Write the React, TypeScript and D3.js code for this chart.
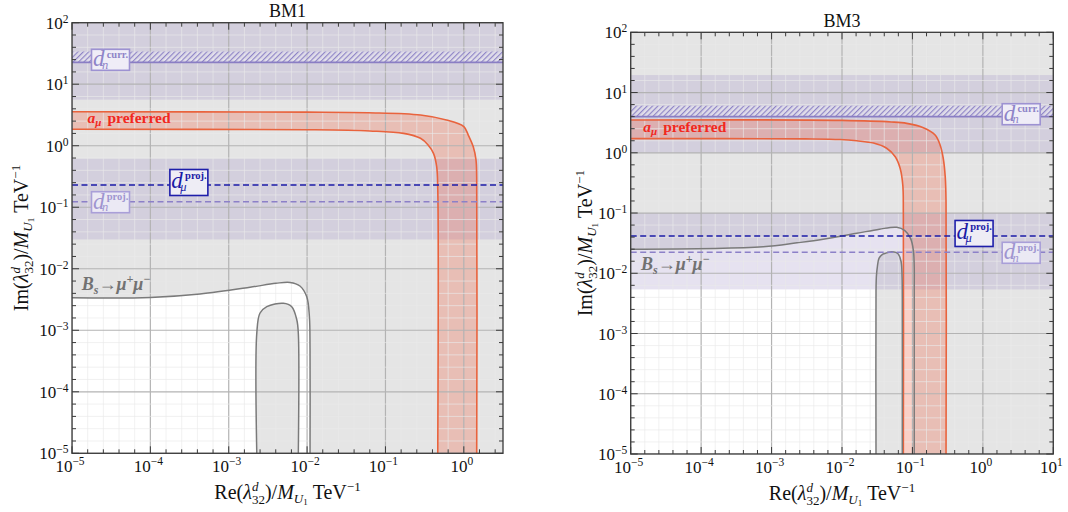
import React from "react";
import * as d3 from "d3";

type Pt = [number, number];

const FONT = "'Liberation Serif', 'Times New Roman', Times, serif";

// Axis extents (powers of ten) and tick exponents
const yExpRange: [number, number] = [-5, 2];
const yTickExps = [-5, -4, -3, -2, -1, 0, 1, 2];
const bm1XExpRange: [number, number] = [-5, 0.5];
const bm1XTickExps = [-5, -4, -3, -2, -1, 0];
const bm3XExpRange: [number, number] = [-5, 1];
const bm3XTickExps = [-5, -4, -3, -2, -1, 0, 1];

// ---------- BM1 ----------
// a_mu preferred band: outer and inner boundary (Re, Im)
const bm1AmuOuter: Pt[] = [
  [1e-5, 3.57], [1e-2, 3.52], [0.06, 3.44], [0.28, 3.16], [0.6, 2.62], [1.0, 2.04],
  [1.14, 1.49], [1.32, 0.96], [1.43, 0.59], [1.46, 0.3], [1.46, 1e-5],
];
const bm1AmuInner: Pt[] = [
  [1e-5, 1.85], [1e-2, 1.82], [0.063, 1.74], [0.17, 1.59], [0.28, 1.32], [0.35, 1.03],
  [0.41, 0.75], [0.45, 0.46], [0.465, 0.2], [0.465, 1e-5],
];
// Bs -> mu mu allowed region: outer and inner contour
const bm1BsOuter: Pt[] = [
  [1e-5, 3.38e-3], [1e-4, 3.42e-3], [4.3e-4, 3.9e-3], [1.87e-3, 5.0e-3], [4e-3, 5.8e-3],
  [6.05e-3, 6.0e-3], [8.1e-3, 5.25e-3], [9.9e-3, 3.5e-3], [1.07e-2, 1.66e-3],
  [1.09e-2, 5e-4], [1.09e-2, 1e-5],
];
const bm1BsInner: Pt[] = [
  [2.28e-3, 1e-5], [2.28e-3, 8.9e-4], [2.5e-3, 1.89e-3], [3.06e-3, 2.42e-3],
  [4.98e-3, 2.74e-3], [6.37e-3, 2.42e-3], [7.4e-3, 1.47e-3], [7.73e-3, 8.9e-4], [7.73e-3, 1e-5],
];
const bm1DnCurrBand: [number, number] = [5.6, 100];
const bm1DnCurrLimit = 22.7;
const bm1DnCurrHatchTop = 34;
const bm1ProjBand: [number, number] = [0.03, 0.62];
const bm1DmuProj = 0.23;
const bm1DnProj = 0.123;

// ---------- BM3 ----------
const bm3AmuOuter: Pt[] = [
  [1e-5, 3.5], [0.01, 3.45], [0.05, 3.25], [0.083, 3.08], [0.143, 2.61], [0.21, 1.97],
  [0.247, 1.35], [0.274, 0.81], [0.293, 0.38], [0.3, 0.15], [0.3, 1e-5],
];
const bm3AmuInner: Pt[] = [
  [1e-5, 1.72], [3e-3, 1.7], [0.0094, 1.66], [0.0162, 1.58], [0.028, 1.45], [0.043, 1.19],
  [0.057, 0.86], [0.067, 0.55], [0.073, 0.29], [0.0743, 0.1], [0.0743, 1e-5],
];
const bm3BsOuter: Pt[] = [
  [1e-5, 0.025], [7.6e-4, 0.0275], [2.3e-3, 0.032], [5.4e-3, 0.0366], [0.0162, 0.046],
  [0.034, 0.054], [0.06, 0.058], [0.078, 0.051], [0.094, 0.038], [0.103, 0.0243],
  [0.106, 0.0129], [0.106, 5e-3], [0.106, 1e-5],
];
const bm3BsInner: Pt[] = [
  [0.0304, 1e-5], [0.0304, 5e-3], [0.0308, 9e-3], [0.0318, 0.0129], [0.0336, 0.0178],
  [0.038, 0.0208], [0.043, 0.0218], [0.0508, 0.0228], [0.058, 0.0222], [0.063, 0.0208],
  [0.069, 0.0157], [0.0713, 0.0087], [0.0718, 4e-3], [0.0718, 1e-5],
];
const bm3DnCurrBand: [number, number] = [1.0, 19.5];
const bm3DnCurrLimit = 3.97;
const bm3DnCurrHatchTop = 6.05;
const bm3ProjBand: [number, number] = [0.0054, 0.1];
const bm3DmuProj = 0.0416;
const bm3DnProj = 0.0223;

// ---------- styling ----------
const EXCLUDED = "#e5e5e5";
const PURPLE_FILL = "rgba(162,147,199,0.27)";
const ORANGE_FILL = "rgba(240,110,80,0.32)";
const ORANGE_LINE = "#e9633d";
const BS_LINE = "#7a7a7a";
const MAJOR_GRID = "#b3b3b3";
const MINOR_GRID = "rgba(234,234,234,0.65)";

interface Frame { left: number; top: number; right: number; bottom: number }

interface PanelSpec {
  id: string;
  title: string;
  titleY: number;
  frame: Frame;
  xExp: [number, number];
  xTicks: number[];
  amuOuter: Pt[];
  amuInner: Pt[];
  bsOuter: Pt[];
  bsInner: Pt[];
  dnCurrBand: [number, number];
  dnCurrLimit: number;
  dnCurrHatchTop: number;
  projBand: [number, number];
  dmuProj: number;
  dnProj: number;
  // label anchors in data units
  dnCurrLabelX: number;
  dmuLabelX: number;
  dnProjLabelX: number;
  amuLabel: Pt;
  bsLabel: Pt;
  xTitleY: number;
  yTitleX: number;
}

const panels: PanelSpec[] = [
  {
    id: "bm1", title: "BM1", titleY: 17,
    frame: { left: 72, top: 22.7, right: 503, bottom: 453.3 },
    xExp: bm1XExpRange, xTicks: bm1XTickExps,
    amuOuter: bm1AmuOuter, amuInner: bm1AmuInner, bsOuter: bm1BsOuter, bsInner: bm1BsInner,
    dnCurrBand: bm1DnCurrBand, dnCurrLimit: bm1DnCurrLimit, dnCurrHatchTop: bm1DnCurrHatchTop,
    projBand: bm1ProjBand, dmuProj: bm1DmuProj, dnProj: bm1DnProj,
    dnCurrLabelX: 3.1e-5, dmuLabelX: 3.1e-4, dnProjLabelX: 3.1e-5,
    amuLabel: [1.58e-5, 2.37], bsLabel: [1.33e-5, 4.5e-3],
    xTitleY: 499, yTitleX: 28,
  },
  {
    id: "bm3", title: "BM3", titleY: 26.5,
    frame: { left: 630.7, top: 32.3, right: 1053.3, bottom: 454 },
    xExp: bm3XExpRange, xTicks: bm3XTickExps,
    amuOuter: bm3AmuOuter, amuInner: bm3AmuInner, bsOuter: bm3BsOuter, bsInner: bm3BsInner,
    dnCurrBand: bm3DnCurrBand, dnCurrLimit: bm3DnCurrLimit, dnCurrHatchTop: bm3DnCurrHatchTop,
    projBand: bm3ProjBand, dmuProj: bm3DmuProj, dnProj: bm3DnProj,
    dnCurrLabelX: 3.5, dmuLabelX: 0.75, dnProjLabelX: 3.5,
    amuLabel: [1.51e-5, 2.25], bsLabel: [1.4e-5, 0.0113],
    xTitleY: 500, yTitleX: 592,
  },
];

const minus = (e: number) => (e < 0 ? "\u2212" + Math.abs(e) : String(e));

function EdmLabel(props: {
  cx: number; cy: number; sub: string; sup: string; color: string; stroke: string; fill: string; tall?: boolean;
}) {
  const { cx, cy, sub, sup, color, stroke, fill, tall } = props;
  const w = 38;
  const h = tall ? 26 : 21;
  return (
    <g fontFamily={FONT}>
      <rect x={cx - w / 2} y={cy - h / 2} width={w} height={h} fill={fill} stroke={stroke} strokeWidth={1.6} />
      <text x={cx - 17.5} y={cy + (tall ? 5.5 : 6.5)} fontSize={23} fontStyle="italic" fill={color}>d</text>
      <text x={cx - 3.8} y={cy - (tall ? 3 : 2)} fontSize={10.5} fontWeight="bold" fill={color}>{sup}</text>
      <text x={cx - 8.6} y={cy + (tall ? 9 : 9.2)} fontSize={12.5} fontStyle="italic" fill={color}>{sub}</text>
    </g>
  );
}

function AxisTitle(props: { lead: string; x: number; y: number; rotate?: boolean }) {
  const { lead, x, y, rotate } = props;
  const transform = rotate ? `translate(${x},${y}) rotate(-90)` : `translate(${x},${y})`;
  return (
    <text transform={transform} textAnchor="middle" fontFamily={FONT} fontSize={20} fill="#111">
      <tspan>{lead}(</tspan>
      <tspan fontStyle="italic">λ</tspan>
      <tspan fontStyle="italic" fontSize={13} dy={-8}>d</tspan>
      <tspan fontSize={13} dx={-6.5} dy={13}>32</tspan>
      <tspan dy={-5}>)/</tspan>
      <tspan fontStyle="italic">M</tspan>
      <tspan fontStyle="italic" fontSize={13} dy={4}>U</tspan>
      <tspan fontSize={9} dy={2}>1</tspan>
      <tspan dy={-6}>{"\u00a0TeV"}</tspan>
      <tspan fontSize={13} dy={-8}>{"\u22121"}</tspan>
    </text>
  );
}

function Panel({ spec }: { spec: PanelSpec }) {
  const { left, top, right, bottom } = spec.frame;
  const x = d3.scaleLog().domain([10 ** spec.xExp[0], 10 ** spec.xExp[1]]).range([left, right]);
  const y = d3.scaleLog().domain([10 ** yExpRange[0], 10 ** yExpRange[1]]).range([bottom, top]);
  const line = d3
    .line<Pt>()
    .x((d) => x(d[0]))
    .y((d) => y(d[1]))
    .curve(d3.curveCatmullRom.alpha(0.5));

  const allowedPath = `${line(spec.bsOuter)}L${left},${bottom}Z`;
  const innerPath = `${line(spec.bsInner)}Z`;
  const amuPath = `${line(spec.amuOuter)}${(line(spec.amuInner.slice().reverse()) || "").replace(/^M/, "L")}Z`;

  const clipId = `clip-${spec.id}`;
  const hatchId = `hatch-${spec.id}`;

  // Minor grid every 0.2 decade, major at each decade
  const xSteps = d3.range(Math.ceil(spec.xExp[0] * 5), Math.floor(spec.xExp[1] * 5 + 1e-9) + 1);
  const ySteps = d3.range(yExpRange[0] * 5, yExpRange[1] * 5 + 1);
  const band = (b: [number, number]) => ({ y: y(b[1]), h: y(b[0]) - y(b[1]) });

  const upper = band(spec.dnCurrBand);
  const proj = band(spec.projBand);
  const hatch = band([spec.dnCurrLimit, spec.dnCurrHatchTop]);

  const majT = 7;
  const minT = 4;

  return (
    <g>
      <defs>
        <clipPath id={clipId}>
          <rect x={left} y={top} width={right - left} height={bottom - top} />
        </clipPath>
        <pattern id={hatchId} patternUnits="userSpaceOnUse" width={3.8} height={3.8} patternTransform="rotate(45)">
          <line x1={0.6} y1={0} x2={0.6} y2={3.8} stroke="#8a7fc4" strokeWidth={1.1} />
        </pattern>
      </defs>

      <g clipPath={`url(#${clipId})`}>
        <rect x={left} y={top} width={right - left} height={bottom - top} fill={EXCLUDED} />
        <path d={allowedPath} fill="#ffffff" />
        <path d={innerPath} fill={EXCLUDED} />

        <rect x={left} y={upper.y} width={right - left} height={upper.h} fill={PURPLE_FILL} />
        <rect x={left} y={proj.y} width={right - left} height={proj.h} fill={PURPLE_FILL} />

        <path d={amuPath} fill={ORANGE_FILL} />

        {xSteps.map((i) => {
          const px = x(10 ** (i / 5));
          const major = i % 5 === 0;
          return (
            <line key={`gx${i}`} x1={px} x2={px} y1={top} y2={bottom}
              stroke={major ? MAJOR_GRID : MINOR_GRID} strokeWidth={major ? 1.2 : 1} />
          );
        })}
        {ySteps.map((i) => {
          const py = y(10 ** (i / 5));
          const major = i % 5 === 0;
          return (
            <line key={`gy${i}`} x1={left} x2={right} y1={py} y2={py}
              stroke={major ? MAJOR_GRID : MINOR_GRID} strokeWidth={major ? 1.2 : 1} />
          );
        })}

        {/* current neutron EDM limit: hatched strip above the bound */}
        <rect x={left} y={hatch.y} width={right - left} height={hatch.h} fill="rgba(238,236,248,0.45)" />
        <rect x={left} y={hatch.y} width={right - left} height={hatch.h} fill={`url(#${hatchId})`} />
        <line x1={left} x2={right} y1={y(spec.dnCurrLimit)} y2={y(spec.dnCurrLimit)} stroke="#8a7ec4" strokeWidth={1.8} />

        <path d={line(spec.amuOuter) || ""} fill="none" stroke={ORANGE_LINE} strokeWidth={1.6} />
        <path d={line(spec.amuInner) || ""} fill="none" stroke={ORANGE_LINE} strokeWidth={1.6} />
        <path d={line(spec.bsOuter) || ""} fill="none" stroke={BS_LINE} strokeWidth={1.5} />
        <path d={line(spec.bsInner) || ""} fill="none" stroke={BS_LINE} strokeWidth={1.5} />

        <line x1={left} x2={right} y1={y(spec.dnProj)} y2={y(spec.dnProj)} stroke="#8c80c8" strokeWidth={1.6} strokeDasharray="6,3.5" />
        <line x1={left} x2={right} y1={y(spec.dmuProj)} y2={y(spec.dmuProj)} stroke="#1c1ca8" strokeWidth={1.6} strokeDasharray="6,3.5" />
      </g>

      {/* frame and inward ticks */}
      <rect x={left} y={top} width={right - left} height={bottom - top} fill="none" stroke="#3a3a3a" strokeWidth={1.3} />
      {xSteps.map((i) => {
        const px = x(10 ** (i / 5));
        const len = i % 5 === 0 ? majT : minT;
        return (
          <g key={`tx${i}`} stroke="#3a3a3a" strokeWidth={1}>
            <line x1={px} x2={px} y1={bottom} y2={bottom - len} />
            <line x1={px} x2={px} y1={top} y2={top + len} />
          </g>
        );
      })}
      {ySteps.map((i) => {
        const py = y(10 ** (i / 5));
        const len = i % 5 === 0 ? majT : minT;
        return (
          <g key={`ty${i}`} stroke="#3a3a3a" strokeWidth={1}>
            <line x1={left} x2={left + len} y1={py} y2={py} />
            <line x1={right} x2={right - len} y1={py} y2={py} />
          </g>
        );
      })}

      {/* tick labels */}
      {spec.xTicks.map((e) => (
        <text key={`lx${e}`} x={x(10 ** e) - 2} y={bottom + 18.5} textAnchor="middle" fontFamily={FONT} fontSize={17} fill="#111">
          10<tspan fontSize={11.5} dy={-7}>{minus(e)}</tspan>
        </text>
      ))}
      {yTickExps.map((e) => (
        <text key={`ly${e}`} x={left - 3.5} y={y(10 ** e) + 6} textAnchor="end" fontFamily={FONT} fontSize={17} fill="#111">
          10<tspan fontSize={11.5} dy={-6}>{minus(e)}</tspan>
        </text>
      ))}

      {/* labels */}
      <text x={x(spec.amuLabel[0])} y={y(spec.amuLabel[1])} fontFamily={FONT} fontSize={15.5} fontWeight="bold" fill="#f2281e">
        <tspan fontStyle="italic">a</tspan>
        <tspan fontStyle="italic" fontSize={11} dy={3}>μ</tspan>
        <tspan dy={-3} dx={6}>preferred</tspan>
      </text>
      <text x={x(spec.bsLabel[0])} y={y(spec.bsLabel[1])} fontFamily={FONT} fontSize={18} fontWeight="bold" fontStyle="italic" fill="#727272">
        <tspan>B</tspan>
        <tspan fontSize={12} dy={4}>s</tspan>
        <tspan dy={-4} fontStyle="normal">→</tspan>
        <tspan>μ</tspan>
        <tspan fontSize={12} dy={-7}>+</tspan>
        <tspan dy={7}>μ</tspan>
        <tspan fontSize={12} dy={-7}>{"\u2212"}</tspan>
      </text>

      <EdmLabel cx={x(spec.dnCurrLabelX)} cy={y(spec.dnCurrLimit) - 2.5} sub="n" sup="curr."
        color="#8e84c8" stroke="#9d92d2" fill="#efedf7" />
      <EdmLabel cx={x(spec.dnProjLabelX)} cy={y(spec.dnProj) + 0.5} sub="n" sup="proj."
        color="#9f95d0" stroke="#a99fd8" fill="#ebe9f4" />
      <EdmLabel cx={x(spec.dmuLabelX)} cy={y(spec.dmuProj) - 2.5} sub="μ" sup="proj."
        color="#1a1aa6" stroke="#1e1eaa" fill="#eeedf5" tall />

      {/* titles */}
      <text x={(left + right) / 2} y={spec.titleY} textAnchor="middle" fontFamily={FONT} fontSize={18} fill="#111">
        {spec.title}
      </text>
      <AxisTitle lead="Re" x={(left + right) / 2} y={spec.xTitleY} />
      <AxisTitle lead="Im" x={spec.yTitleX} y={(top + bottom) / 2} rotate />
    </g>
  );
}

export default function App() {
  return (
    <svg
      width={1068}
      height={512}
      viewBox="0 0 1068 512"
      style={{ position: "absolute", left: 0, top: 0, background: "#ffffff", display: "block" }}
    >
      {panels.map((p) => (
        <Panel key={p.id} spec={p} />
      ))}
    </svg>
  );
}
